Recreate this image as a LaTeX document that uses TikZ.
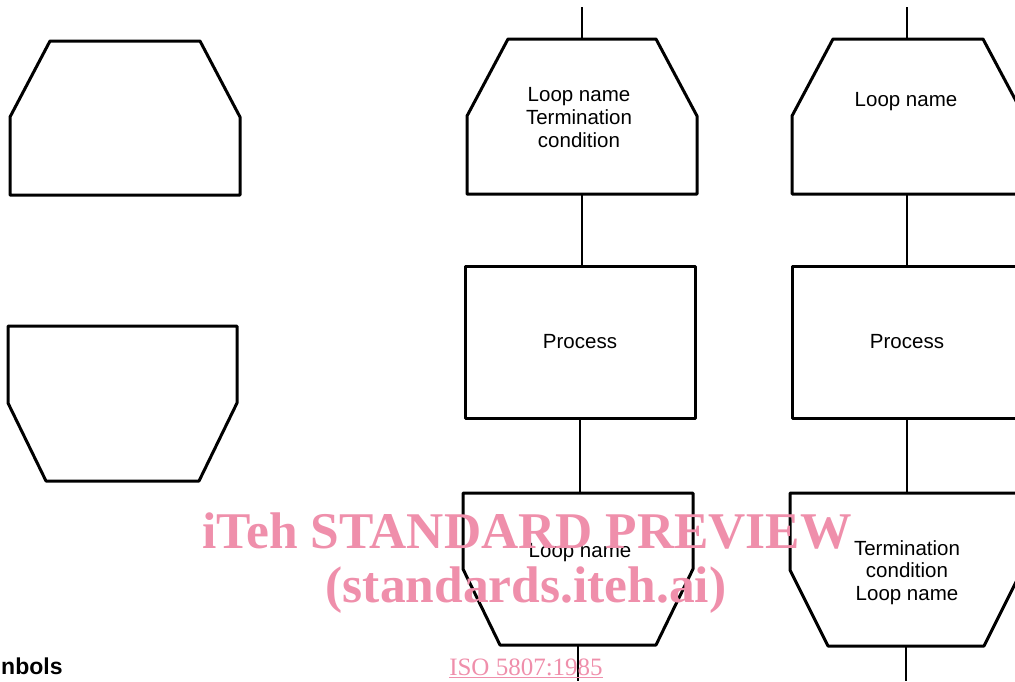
\documentclass[tikz,border=0pt]{standalone}
\usepackage{fontspec}
\setmainfont{Liberation Sans}
\newfontfamily\wmfont{Liberation Serif}
\usetikzlibrary{calc}
\definecolor{wmpink}{RGB}{239,143,171}
\newcommand\lblfont{\fontsize{20.5}{22.6}\selectfont}
\tikzset{
  frame/.style={inner sep=0pt, outer sep=0pt, minimum width=230pt, minimum height=155pt},
  outline/.style={line width=3pt, line join=round},
  proc/.style={draw, line width=3pt, line join=round, inner sep=0pt, outer sep=0pt,
    minimum width=230pt, minimum height=152pt, font=\lblfont},
  lbl/.style={font=\lblfont, align=center, inner sep=0pt},
  conn/.style={line width=2.6pt},
  wmtext/.style={text=wmpink, font=\wmfont\bfseries\fontsize{51.5}{51.5}\selectfont, inner sep=0pt},
  wmsmall/.style={text=wmpink, font=\wmfont\fontsize{25}{25}\selectfont, inner sep=0pt}
}
\begin{document}
\begin{tikzpicture}[x=1pt,y=-1pt]
\useasboundingbox (0,0) rectangle (1015,681);

% ---- left column: loop limit symbols ----
\node[frame, minimum height=154pt] (A) at (125,118) {};
\draw[outline] ($(A.north west)+(40,0)$) -- ($(A.north east)+(-40,0)$)
  -- ($(A.north east)+(0,76)$) -- (A.south east) -- (A.south west)
  -- ($(A.north west)+(0,76)$) -- cycle;

\node[frame, minimum width=229pt] (B) at (122.5,403.5) {};
\draw[outline] (B.north west) -- (B.north east) -- ($(B.south east)+(0,-78)$)
  -- ($(B.south east)+(-38,0)$) -- ($(B.south west)+(38,0)$)
  -- ($(B.south west)+(0,-78)$) -- cycle;

% ---- middle column ----
\node[frame] (C) at (582,116.5) {};
\draw[outline] ($(C.north west)+(41,0)$) -- ($(C.north east)+(-41,0)$)
  -- ($(C.north east)+(0,77)$) -- (C.south east) -- (C.south west)
  -- ($(C.north west)+(0,77)$) -- cycle;
\node[lbl] (Ct) at (579,117.5) {Loop name\\Termination\\condition};

\node[proc] (D) at (580,342) {Process};

\node[frame, minimum height=152pt] (E) at (578,569) {};
\draw[outline] (E.north west) -- (E.north east) -- ($(E.south east)+(0,-76)$)
  -- ($(E.south east)+(-37,0)$) -- ($(E.south west)+(37,0)$)
  -- ($(E.south west)+(0,-76)$) -- cycle;
\node[lbl] (Et) at (580,553) {Loop name};

\coordinate (ctop) at (582,7);
\coordinate (cbot) at (578,681);
\draw[conn] (ctop) -- (C.north);
\draw[conn] (C.south) -- (C.south |- D.north);
\draw[conn] (D.south) -- (D.south |- E.north);
\draw[conn] (E.south) -- (cbot);

% ---- right column ----
\node[frame, minimum width=232pt] (F) at (908,116.5) {};
\draw[outline] ($(F.north west)+(41,0)$) -- ($(F.north east)+(-41,0)$)
  -- ($(F.north east)+(0,77)$) -- (F.south east) -- (F.south west)
  -- ($(F.north west)+(0,77)$) -- cycle;
\node[lbl] (Ft) at (906,102) {Loop name};

\node[proc] (G) at (907,342) {Process};

\node[frame, minimum width=232pt, minimum height=153pt] (H) at (906,569.5) {};
\draw[outline] (H.north west) -- (H.north east) -- ($(H.south east)+(0,-76)$)
  -- ($(H.south east)+(-38,0)$) -- ($(H.south west)+(38,0)$)
  -- ($(H.south west)+(0,-76)$) -- cycle;
\node[lbl] (Ht) at (907,572.5) {Termination\\condition\\Loop name};

\coordinate (rtop) at (907,7);
\coordinate (rbot) at (906,681);
\draw[conn] (rtop) -- (rtop |- F.north);
\draw[conn] (G.north |- F.south) -- (G.north);
\draw[conn] (G.south) -- (G.south |- H.north);
\draw[conn] (H.south) -- (rbot);

% ---- caption fragment ----
\node[anchor=base west, inner sep=0pt, font=\bfseries\fontsize{23}{23}\selectfont] (cap) at (1,674) {nbols};

% ---- watermark ----
\node[wmtext] (wm1) at (527,531) {iTeh STANDARD PREVIEW};
\node[wmtext] (wm2) at (526,590) {(standards.iteh.ai)};
\node[wmsmall, anchor=base] (wm3) at (526,675) {\underline{ISO 5807:1985}};
\end{tikzpicture}
\end{document}
